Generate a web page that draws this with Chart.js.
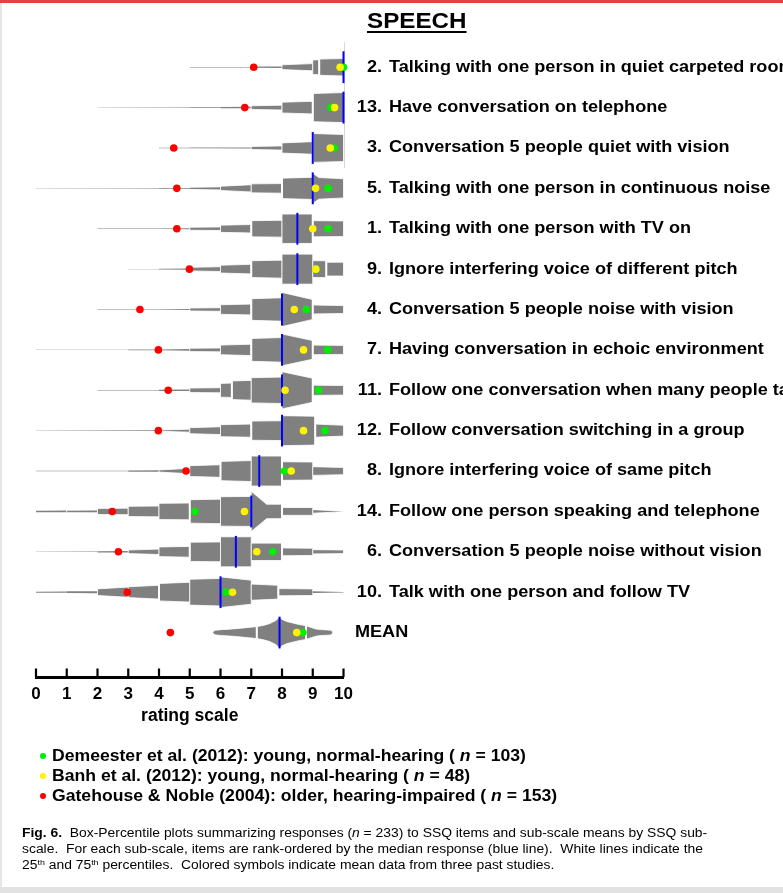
<!DOCTYPE html>
<html>
<head>
<meta charset="utf-8">
<title>SSQ Speech sub-scale: box-percentile plots</title>
<script src="https://cdn.jsdelivr.net/npm/chart.js@4.4.1/dist/chart.umd.min.js"></script>
<style>
  html, body { margin: 0; padding: 0; background: #fff; }
  #page { position: relative; width: 783px; height: 893px; overflow: hidden; background: #fff;
          font-family: "Liberation Sans", Arial, sans-serif; color: #000; }
  #topbar { position: absolute; left: 0; top: 0; width: 783px; height: 3px; background: #e8403f; }
  #leftedge { position: absolute; left: 0; top: 3px; width: 2px; height: 884px; background: #e6e6e6; }
  #bottomband { position: absolute; left: 0; top: 887px; width: 783px; height: 6px; background: #e2e2e2; }
  #chart { position: absolute; left: 0; top: 0; }
  .wide { position: absolute; white-space: nowrap; transform: scaleX(1.1); transform-origin: 0 0; }
  #title { left: 367px; top: 10px; font-size: 22px; line-height: 22px; font-weight: bold;
           text-decoration: underline; text-decoration-thickness: 2px; text-underline-offset: 3px; }
  #legend { left: 0; top: 0; }
  .legrow { position: absolute; left: 0; height: 20px; }
  .legdot { position: absolute; left: 40px; width: 6px; height: 6px; border-radius: 50%; }
  .legtext { left: 52px; font-size: 16px; line-height: 20px; font-weight: bold; }
  #caption { left: 22px; top: 826px; font-size: 12.5px; line-height: 15.8px; transform: scaleX(1.11); }
  #caption sup { font-size: 8px; line-height: 0; vertical-align: 4px; }
</style>
</head>
<body>
<div id="page">
  <canvas id="chart" width="783" height="893"></canvas>
  <div id="topbar"></div>
  <div id="leftedge"></div>
  <div id="bottomband"></div>
  <div id="title" class="wide">SPEECH</div>
  <div id="legend"></div>
  <div id="caption" class="wide"><b>Fig. 6.</b>&nbsp; Box-Percentile plots summarizing responses (<i>n</i> = 233) to SSQ items and sub-scale means by SSQ sub-<br>scale.&nbsp; For each sub-scale, items are rank-ordered by the median response (blue line).&nbsp; White lines indicate the<br>25<sup>th</sup> and 75<sup>th</sup> percentiles.&nbsp; Colored symbols indicate mean data from three past studies.</div>
</div>
<script>
// ---- data -------------------------------------------------------------
const ratingTicks = [0, 1, 2, 3, 4, 5, 6, 7, 8, 9, 10];

const itemNumbers = ['2.', '13.', '3.', '5.', '1.', '9.', '4.', '7.', '11.', '12.', '8.', '14.', '6.', '10.', ''];
const itemLabels = [
  'Talking with one person in quiet carpeted room',
  'Have conversation on telephone',
  'Conversation 5 people quiet with vision',
  'Talking with one person in continuous noise',
  'Talking with one person with TV on',
  'Ignore interfering voice of different pitch',
  'Conversation 5 people noise with vision',
  'Having conversation in echoic environment',
  'Follow one conversation when many people talk',
  'Follow conversation switching in a group',
  'Ignore interfering voice of same pitch',
  'Follow one person speaking and telephone',
  'Conversation 5 people noise without vision',
  'Talk with one person and follow TV',
  'MEAN'
];

// median response (blue line) and 25th / 75th percentiles (white lines)
const medians        = [10, 10, 9, 9, 8.5, 8.5, 8, 8, 8, 8, 7.26, 7, 6.5, 6, 7.92];
const lowerQuartiles = [9.21, 9, 9, 8, 7, 7, 7, 7, 6.37, 7, 6, 5, 5, 4, 7.18];
const upperQuartiles = [10, 10, 10, 10, 9, 9.44, 9, 9, 9, 9.08, 8, 8, 8, 7.88, 8.78];

// mean data from three past studies
const studyNames = [
  'Demeester et al. (2012): young, normal-hearing ( <i>n</i> = 103)',
  'Banh et al. (2012): young, normal-hearing ( <i>n</i> = 48)',
  'Gatehouse &amp; Noble (2004): older, hearing-impaired ( <i>n</i> = 153)'
];
const studyColors = ['#00ee00', '#fff200', '#ff0000'];
const demeester = [10.0, 9.59, 9.7, 9.5, 9.5, 9.1, 8.79, 9.49, 9.19, 9.4, 8.08, 5.17, 7.7, 6.18, 8.68];
const banh      = [9.89, 9.71, 9.57, 9.09, 9.0, 9.1, 8.4, 8.7, 8.1, 8.7, 8.3, 6.78, 7.18, 6.39, 8.48];
const gatehouse = [7.08, 6.79, 4.48, 4.58, 4.58, 4.99, 3.38, 3.98, 4.3, 3.98, 4.88, 2.48, 2.68, 2.97, 4.37];

// box-percentile profiles: per item a list of pieces, each piece a run of
// [rating, percentile width] points (width = min(p, 1 - p))
const percentileProfiles = [
  [ [[5,.008],[7,.01]], [[7,.02],[8,.025]], [[8,.08],[9,.12]], [[9,.24],[9.21,.25]], [[9.21,.27],[10,.29]] ],
  [ [[2,.006],[5,.008]], [[5,.012],[6,.015]], [[6,.02],[7,.025]], [[7,.06],[8,.08]], [[8,.18],[9,.21]], [[9,.47],[10,.5]] ],
  [ [[4,.008],[5,.01]], [[5,.012],[7,.02]], [[7,.05],[8,.07]], [[8,.17],[9,.21]], [[9,.48],[10,.45]] ],
  [ [[0,.006],[4,.008]], [[4,.01],[5,.012]], [[5,.02],[6,.035]], [[6,.07],[7,.12]], [[7,.15],[8,.16]], [[8,.34],[9,.37]], [[9,.5],[9.2,.36],[10,.32]] ],
  [ [[2,.006],[4,.008]], [[4,.01],[5,.015]], [[5,.05],[6,.06]], [[6,.12],[7,.14]], [[7,.27],[8,.28]], [[8,.49],[9,.49]], [[9,.27],[10,.26]] ],
  [ [[3,.006],[4,.008]], [[4,.012],[5,.02]], [[5,.06],[6,.08]], [[6,.13],[7,.16]], [[7,.28],[8,.3]], [[8,.5],[9,.5]], [[9,.28],[9.44,.28]], [[9.44,.23],[10,.23]] ],
  [ [[2,.006],[4,.008]], [[4,.012],[5,.017]], [[5,.05],[6,.06]], [[6,.16],[7,.18]], [[7,.36],[8,.39]], [[8,.57],[9,.33]], [[9,.15],[10,.13]] ],
  [ [[0,.005],[3,.007]], [[3,.01],[4,.012]], [[4,.015],[5,.03]], [[5,.055],[6,.065]], [[6,.16],[7,.19]], [[7,.38],[8,.41]], [[8,.53],[9,.31]], [[9,.16],[10,.15]] ],
  [ [[2,.006],[4,.01]], [[4,.02],[5,.025]], [[5,.075],[6,.085]], [[6,.23],[6.37,.24]], [[6.37,.31],[7,.33]], [[7,.42],[8,.44]], [[8,.62],[9,.4]], [[9,.17],[10,.16]] ],
  [ [[0,.005],[4,.01]], [[4,.02],[5,.05]], [[5,.1],[6,.13]], [[6,.2],[7,.22]], [[7,.32],[8,.33]], [[8,.5],[9.08,.48]], [[9.08,.22],[10,.18]] ],
  [ [[0,.006],[3,.008]], [[3,.02],[4,.025]], [[4,.035],[5,.09]], [[5,.18],[6,.21]], [[6,.32],[7,.35]], [[7,.5],[8,.5]], [[8,.31],[9,.3]], [[9,.145],[10,.12]] ],
  [ [[0,.025],[1,.03]], [[1,.04],[2,.045]], [[2,.1],[3,.11]], [[3,.17],[4,.18]], [[4,.27],[5,.28]], [[5,.39],[6,.41]], [[6,.49],[7,.5]], [[7,.67],[7.5,.24],[8,.24]], [[8,.13],[9,.13]], [[9,.06],[10,.01]] ],
  [ [[0,.005],[2,.008]], [[2,.02],[3,.025]], [[3,.06],[4,.09]], [[4,.16],[5,.18]], [[5,.32],[6,.33]], [[6,.5],[7,.5]], [[7,.29],[8,.29]], [[8,.13],[9,.12]], [[9,.07],[10,.06]] ],
  [ [[0,.017],[1,.02]], [[1,.03],[2,.035]], [[2,.11],[3,.17]], [[3,.18],[4,.23]], [[4,.29],[5,.33]], [[5,.43],[6,.46]], [[6,.51],[6.1,.5],[7,.4]], [[7,.27],[7.88,.23]], [[7.88,.12],[9,.11]], [[9,.03],[10,.01]] ],
  [ [[5.75,0],[5.77,.05],[5.85,.08],[6.0,.095],[6.3,.115],[6.6,.14],[6.9,.17],[7.18,.2],[7.4,.24],[7.6,.3],[7.8,.4],[7.92,.52],
     [8.0,.44],[8.15,.37],[8.35,.32],[8.55,.27],[8.78,.23],[8.95,.17],[9.1,.12],[9.25,.1],[9.45,.09],[9.58,.08],[9.63,.05],[9.65,0]] ]
];

// ---- legend -----------------------------------------------------------
const legendBox = document.getElementById('legend');
studyNames.forEach((name, i) => {
  const row = document.createElement('div');
  row.className = 'legrow';
  row.style.top = (746 + 20 * i) + 'px';
  row.innerHTML = '<span class="legdot" style="top:7px;background:' + studyColors[i] + '"></span>' +
                  '<span class="legtext wide">' + name + '</span>';
  legendBox.appendChild(row);
});

// ---- drawing helpers ---------------------------------------------------
const WIDTH_TO_ROWS = 0.743;   // percentile width -> fraction of row spacing
const GRAY = '#808080';
const LABEL_STRETCH = 1.13;

function widthAt(profile, q) {
  let w = 0;
  profile.forEach(piece => {
    for (let k = 0; k < piece.length - 1; k++) {
      const [xa, wa] = piece[k], [xb, wb] = piece[k + 1];
      if (q >= xa - 1e-9 && q <= xb + 1e-9) {
        const t = xb === xa ? 0 : (q - xa) / (xb - xa);
        w = Math.max(w, wa + (wb - wa) * t);
      }
    }
  });
  return w;
}

const boxPercentilePlugin = {
  id: 'boxPercentile',
  beforeDatasetsDraw(chart) {
    const { ctx, scales: { x, y } } = chart;
    ctx.save();

    // light reference line at the top of the scale
    ctx.strokeStyle = '#d6d6d6';
    ctx.lineWidth = 1;
    ctx.beginPath();
    ctx.moveTo(Math.round(x.getPixelForValue(10)) + 0.5, y.getPixelForValue(-0.62));
    ctx.lineTo(Math.round(x.getPixelForValue(10)) + 0.5, y.getPixelForValue(2.5));
    ctx.stroke();

    percentileProfiles.forEach((profile, row) => {
      profile.forEach(piece => {
        ctx.beginPath();
        piece.forEach(([rx, w], k) => {
          const px = x.getPixelForValue(rx), py = y.getPixelForValue(row - w * WIDTH_TO_ROWS);
          if (k === 0) ctx.moveTo(px, py); else ctx.lineTo(px, py);
        });
        for (let k = piece.length - 1; k >= 0; k--) {
          const [rx, w] = piece[k];
          ctx.lineTo(x.getPixelForValue(rx), y.getPixelForValue(row + w * WIDTH_TO_ROWS));
        }
        ctx.closePath();
        ctx.fillStyle = GRAY;
        ctx.fill();
        const maxW = Math.max(...piece.map(p => p[1]));
        if (maxW >= 0.04) {
          ctx.strokeStyle = 'rgba(255,255,255,0.8)';
          ctx.lineWidth = 1;
          ctx.lineJoin = 'miter';
          ctx.stroke();
        }
      });

      // 25th and 75th percentiles
      [lowerQuartiles[row], upperQuartiles[row]].forEach(q => {
        if (q >= 10) return;
        const w = widthAt(profile, q) * WIDTH_TO_ROWS;
        if (w <= 0) return;
        ctx.strokeStyle = '#ffffff';
        ctx.lineWidth = 2;
        ctx.beginPath();
        ctx.moveTo(x.getPixelForValue(q), y.getPixelForValue(row - w));
        ctx.lineTo(x.getPixelForValue(q), y.getPixelForValue(row + w));
        ctx.stroke();
      });

      // median
      const m = medians[row];
      ctx.strokeStyle = '#0000ff';
      ctx.lineWidth = 2;
      ctx.beginPath();
      ctx.moveTo(x.getPixelForValue(m), y.getPixelForValue(row - 0.53 * WIDTH_TO_ROWS));
      ctx.lineTo(x.getPixelForValue(m), y.getPixelForValue(row + 0.53 * WIDTH_TO_ROWS));
      ctx.stroke();
    });
    ctx.restore();
  },
  afterDraw(chart) {
    const { ctx, chartArea, scales: { x, y } } = chart;
    ctx.save();
    // tick marks rising from the axis line
    ctx.strokeStyle = '#000';
    ctx.lineWidth = 2.2;
    ratingTicks.forEach(v => {
      const px = x.getPixelForValue(v);
      ctx.beginPath();
      ctx.moveTo(px, chartArea.bottom);
      ctx.lineTo(px, chartArea.bottom - 8.5);
      ctx.stroke();
    });
    // item labels
    ctx.fillStyle = '#000';
    ctx.font = 'bold 16px "Liberation Sans", Arial, sans-serif';
    ctx.textBaseline = 'middle';
    itemLabels.forEach((label, row) => {
      const py = y.getPixelForValue(row);
      const num = itemNumbers[row];
      if (num) {
        ctx.save(); ctx.translate(382, py); ctx.scale(LABEL_STRETCH, 1);
        ctx.textAlign = 'right'; ctx.fillText(num, 0, 0); ctx.restore();
        ctx.save(); ctx.translate(389, py); ctx.scale(LABEL_STRETCH, 1);
        ctx.textAlign = 'left'; ctx.fillText(label, 0, 0); ctx.restore();
      } else {
        ctx.save(); ctx.translate(355, py); ctx.scale(LABEL_STRETCH, 1);
        ctx.textAlign = 'left'; ctx.fillText(label, 0, 0); ctx.restore();
      }
    });
    ctx.restore();
  }
};

const toPoints = values => values.map((v, i) => ({ x: v, y: i }));
const dotStyle = { pointRadius: 3.8, pointHoverRadius: 3.8, pointBorderWidth: 0, borderWidth: 0, clip: false, showLine: false };

new Chart(document.getElementById('chart'), {
  type: 'scatter',
  data: {
    datasets: [
      Object.assign({ label: 'Gatehouse & Noble (2004)', data: toPoints(gatehouse), backgroundColor: studyColors[2], pointBackgroundColor: studyColors[2] }, dotStyle),
      Object.assign({ label: 'Banh et al. (2012)', data: toPoints(banh), backgroundColor: studyColors[1], pointBackgroundColor: studyColors[1] }, dotStyle),
      Object.assign({ label: 'Demeester et al. (2012)', data: toPoints(demeester), backgroundColor: studyColors[0], pointBackgroundColor: studyColors[0] }, dotStyle)
    ]
  },
  options: {
    responsive: false,
    animation: false,
    devicePixelRatio: 1,
    events: [],
    layout: { padding: { left: 36, right: 439.5, top: 45, bottom: 0 } },
    plugins: { legend: { display: false }, tooltip: { enabled: false } },
    scales: {
      x: {
        type: 'linear', position: 'bottom', min: 0, max: 10,
        afterBuildTicks: scale => { scale.ticks = ratingTicks.map(v => ({ value: v })); },
        afterFit: scale => { scale.height = 216; },
        ticks: {
          color: '#000', padding: 7.5, autoSkip: false, maxRotation: 0,
          font: { family: '"Liberation Sans", Arial, sans-serif', size: 17, weight: 'bold' }
        },
        grid: { display: false, drawTicks: false },
        border: { display: true, color: '#000', width: 3 },
        title: {
          display: true, text: 'rating scale', color: '#000',
          font: { family: '"Liberation Sans", Arial, sans-serif', size: 17.5, weight: 'bold' },
          padding: { top: 0, bottom: 166.5 }
        }
      },
      y: { type: 'linear', min: -0.55, max: 15.1, reverse: true, display: false }
    }
  },
  plugins: [boxPercentilePlugin]
});
</script>
</body>
</html>
